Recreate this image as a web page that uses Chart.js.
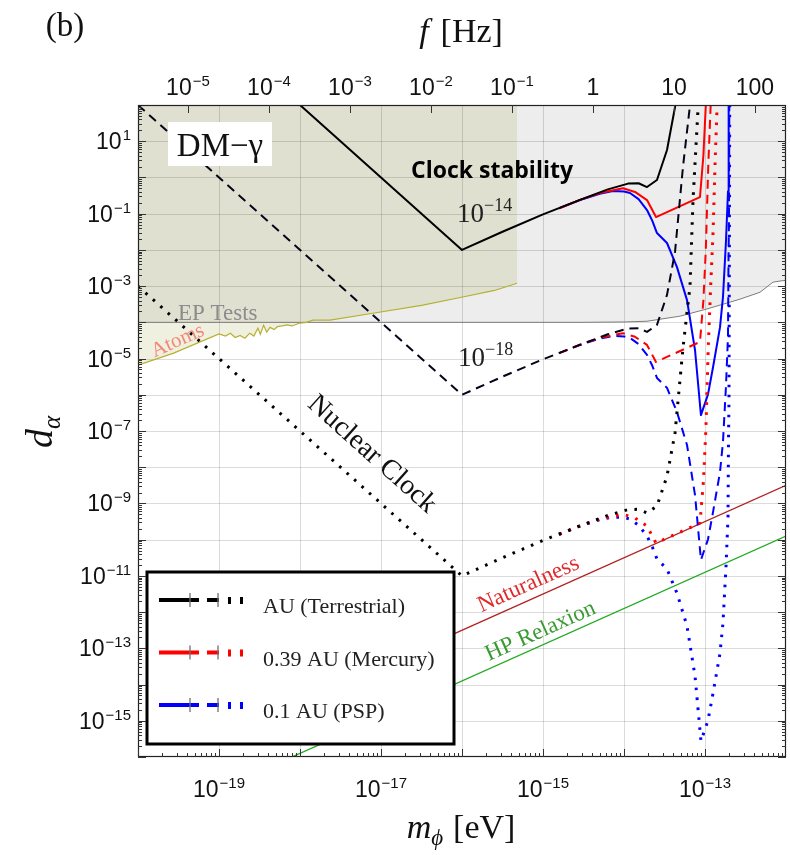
<!DOCTYPE html>
<html>
<head>
<meta charset="utf-8">
<script src="https://cdn.jsdelivr.net/npm/chart.js@4.4.1/dist/chart.umd.min.js"></script>
<style>
  html, body { margin: 0; padding: 0; background: #fff; }
  #wrap { width: 790px; height: 855px; position: relative; }
</style>
</head>
<body>
<div id="wrap"><canvas id="c" width="790" height="855"></canvas></div>
<script>
// ---- axis ranges and tick labels (powers of ten) ----
const massRange = [-20, -12];          // log10 m_phi [eV]
const couplingRange = [-16, 2];        // log10 d_alpha
const massTickExps = [-19, -17, -15, -13];
const couplingTickExps = [1, -1, -3, -5, -7, -9, -11, -13, -15];
const freqTickExps = [-5, -4, -3, -2, -1, 0, 1, 2];
const PLANCK_EV_S = 4.135667696e-15;   // f = m c^2 / h

// ---- sensitivity curves, points given as [log10 m, log10 d] ----
// 1 AU (terrestrial)
const terrestrialSolid = [[-18,2],[-16,-2],[-15.5,-1.5],[-15,-1.02],[-14.543,-0.62],[-14.2,-0.33],[-13.95,-0.17],[-13.82,-0.16],[-13.716,-0.265],[-13.593,-0.072],[-13.469,0.757],[-13.37,1.945],[-13.35,2.3]];
const terrestrialDashed = [[-20,2],[-16,-6],[-15.5,-5.5],[-15,-5.02],[-14.543,-4.62],[-14.2,-4.33],[-13.95,-4.17],[-13.82,-4.16],[-13.716,-4.265],[-13.593,-4.072],[-13.469,-3.243],[-13.37,-2.055],[-13.272,0.29],[-13.185,2.0],[-13.17,2.5]];
const terrestrialDotted = [[-20,-3],[-16,-11],[-15.5,-10.5],[-15,-10.02],[-14.543,-9.62],[-14.2,-9.33],[-13.95,-9.17],[-13.82,-9.16],[-13.716,-9.265],[-13.593,-9.072],[-13.469,-8.243],[-13.37,-7.055],[-13.272,-4.71],[-13.185,-3.0],[-13.148,-0.62],[-13.086,1.9],[-13.08,2.3]];
// 0.39 AU (Mercury)
const mercurySolid = [[-14.8,-0.85],[-14.543,-0.62],[-14.3,-0.43],[-14.012,-0.3],[-13.864,-0.40],[-13.716,-0.624],[-13.605,-1.094],[-13.062,-0.541],[-13.02,0.6],[-12.99,2.0],[-12.98,2.5]];
const mercuryDashed = [[-14.8,-4.85],[-14.543,-4.62],[-14.3,-4.43],[-14.012,-4.3],[-13.864,-4.40],[-13.716,-4.624],[-13.605,-5.094],[-13.062,-4.541],[-13.02,-3.4],[-12.99,-2.0],[-12.96,0.3],[-12.93,2.0],[-12.92,2.5]];
const mercuryDotted = [[-14.8,-9.85],[-14.543,-9.62],[-14.3,-9.43],[-14.012,-9.3],[-13.864,-9.40],[-13.716,-9.624],[-13.605,-10.094],[-13.062,-9.541],[-13.02,-8.4],[-12.99,-7.0],[-12.96,-4.7],[-12.93,-3.0],[-12.9,-1.5],[-12.877,0.3],[-12.852,1.9],[-12.845,2.5]];
// 0.1 AU (Parker Solar Probe)
const pspSolid = [[-14.8,-0.85],[-14.543,-0.624],[-14.3,-0.45],[-14.136,-0.376],[-14.0,-0.39],[-13.926,-0.431],[-13.82,-0.6],[-13.716,-0.90],[-13.65,-1.2],[-13.593,-1.536],[-13.469,-1.81],[-13.346,-2.475],[-13.222,-3.387],[-13.123,-4.77],[-13.05,-6.56],[-12.963,-5.99],[-12.901,-5.24],[-12.815,-4.14],[-12.778,-3.3],[-12.741,-1.76],[-12.716,-0.38],[-12.71,1.7],[-12.706,2.5]];
const pspDashed = [[-14.8,-4.85],[-14.543,-4.624],[-14.3,-4.45],[-14.136,-4.376],[-14.0,-4.39],[-13.926,-4.431],[-13.82,-4.6],[-13.716,-4.90],[-13.65,-5.2],[-13.593,-5.536],[-13.469,-5.81],[-13.346,-6.475],[-13.222,-7.387],[-13.123,-8.77],[-13.05,-10.56],[-12.963,-9.99],[-12.901,-9.24],[-12.815,-8.14],[-12.778,-7.3],[-12.741,-5.76],[-12.716,-4.38],[-12.71,-2.3],[-12.704,-1.15],[-12.70,2.0],[-12.699,2.5]];
const pspDotted = [[-14.8,-9.85],[-14.543,-9.624],[-14.3,-9.45],[-14.136,-9.376],[-14.0,-9.39],[-13.926,-9.431],[-13.82,-9.6],[-13.716,-9.90],[-13.65,-10.2],[-13.593,-10.536],[-13.469,-10.81],[-13.346,-11.475],[-13.222,-12.387],[-13.123,-13.77],[-13.05,-15.56],[-12.963,-14.99],[-12.901,-14.24],[-12.815,-13.14],[-12.778,-12.3],[-12.741,-10.76],[-12.716,-9.38],[-12.71,-7.3],[-12.704,-6.15],[-12.70,-3.0],[-12.695,2.0],[-12.694,2.5]];

// ---- existing bounds and theory lines ----
const epTestsBound = [[-20,-4],[-14.543,-4.0],[-14.0,-3.99],[-13.716,-3.97],[-13.309,-3.83],[-12.975,-3.63],[-12.778,-3.5],[-12.568,-3.36],[-12.321,-3.17],[-12.16,-2.89],[-12.074,-2.86],[-12.0,-2.84]];
const atomsBound = [[-20,-5.18],[-19.56,-4.85],[-19.0,-4.32],[-18.92,-4.38],[-18.86,-4.30],[-18.8,-4.42],[-18.74,-4.36],[-18.68,-4.44],[-18.62,-4.3],[-18.57,-4.38],[-18.52,-4.16],[-18.49,-4.33],[-18.45,-4.08],[-18.41,-4.27],[-18.37,-4.14],[-18.32,-4.2],[-18.28,-4.12],[-18.22,-4.1],[-18.16,-4.07],[-18.1,-4.1],[-18.0,-4.02],[-17.92,-4.0],[-17.84,-3.94],[-17.63,-3.94],[-17.1,-3.75],[-16.5,-3.53],[-15.99,-3.30],[-15.6,-3.12],[-15.32,-2.92]];
const naturalnessLine = [[-16.1,-12.6],[-12,-8.5]];
const relaxionLine = [[-20,-17.9],[-12,-9.9]];

const legendLabels = ['AU (Terrestrial)', '0.39 AU (Mercury)', '0.1 AU (PSP)'];
const legendColors = ['#000000', '#ff0000', '#0000ff'];

const SANS = '"Liberation Sans", Arial, sans-serif';
const SERIF = '"Liberation Serif", "Times New Roman", "DejaVu Serif", serif';

function toPoints(arr) {
  return arr.map(([m, d]) => ({ x: Math.pow(10, m), y: Math.pow(10, d) }));
}

function curve(label, arr, color, style, order) {
  const ds = {
    label, data: toPoints(arr), borderColor: color, backgroundColor: color,
    borderWidth: 2, pointRadius: 0, showLine: true, fill: false, tension: 0,
    order, borderCapStyle: 'butt', borderJoinStyle: 'round'
  };
  if (style === 'dash') ds.borderDash = [9, 6];
  if (style === 'dot') { ds.borderDash = [2.6, 7.4]; ds.borderWidth = 3; }
  return ds;
}

const datasets = [
  { label: 'EP region', data: toPoints(epTestsBound), borderWidth: 0, borderColor: 'rgba(0,0,0,0)',
    backgroundColor: '#ededed', fill: 'end', showLine: true, pointRadius: 0, order: 40 },
  { label: 'Atoms region', data: toPoints(atomsBound), borderWidth: 0, borderColor: 'rgba(0,0,0,0)',
    backgroundColor: 'rgba(150,150,45,0.14)', fill: 'end', showLine: true, pointRadius: 0, order: 39 },
  { label: 'EP Tests', data: toPoints(epTestsBound), borderWidth: 1, borderColor: '#7c7c7c',
    fill: false, showLine: true, pointRadius: 0, order: 38 },
  { label: 'Atoms', data: toPoints(atomsBound), borderWidth: 1.2, borderColor: '#b6b030',
    fill: false, showLine: true, pointRadius: 0, order: 37 },
  { label: 'Naturalness', data: toPoints(naturalnessLine), borderWidth: 1.3, borderColor: '#b3201f',
    fill: false, showLine: true, pointRadius: 0, order: 36 },
  { label: 'HP Relaxion', data: toPoints(relaxionLine), borderWidth: 1.3, borderColor: '#22aa22',
    fill: false, showLine: true, pointRadius: 0, order: 35 },
  curve('0.1 AU dotted', pspDotted, '#0000ff', 'dot', 30),
  curve('0.1 AU dashed', pspDashed, '#0000ff', 'dash', 29),
  curve('0.1 AU solid', pspSolid, '#0000ff', 'solid', 28),
  curve('0.39 AU dotted', mercuryDotted, '#ff0000', 'dot', 27),
  curve('0.39 AU dashed', mercuryDashed, '#ff0000', 'dash', 26),
  curve('0.39 AU solid', mercurySolid, '#ff0000', 'solid', 25),
  curve('AU dotted', terrestrialDotted, '#000000', 'dot', 24),
  curve('AU dashed', terrestrialDashed, '#05051a', 'dash', 23),
  curve('AU solid', terrestrialSolid, '#000000', 'solid', 22)
];
const GRID_AFTER = 1; // gridlines go on top of the shaded regions

function line(ctx, x1, y1, x2, y2) {
  ctx.beginPath(); ctx.moveTo(x1, y1); ctx.lineTo(x2, y2); ctx.stroke();
}

// "10" with a raised exponent
function powLabel(ctx, exp, x, y, align) {
  const base = '10', sup = (exp < 0 ? '\u2212' : '') + Math.abs(exp);
  ctx.font = '23px ' + SANS;
  const wb = ctx.measureText(base).width;
  ctx.font = '15px ' + SANS;
  const ws = ctx.measureText(sup).width;
  const w = wb + ws + 1;
  let x0 = align === 'right' ? x - w : (align === 'center' ? x - w / 2 : x);
  ctx.textAlign = 'left';
  ctx.font = '23px ' + SANS; ctx.fillText(base, x0, y);
  ctx.font = '15px ' + SANS; ctx.fillText(sup, x0 + wb + 1, y - 9);
}

function parts(ctx, list, x, y, align) {
  let w = 0;
  list.forEach(p => { ctx.font = p.font; w += ctx.measureText(p.t).width + (p.gap || 0); });
  let cx = align === 'center' ? x - w / 2 : x;
  ctx.textAlign = 'left';
  list.forEach(p => {
    ctx.font = p.font;
    ctx.fillText(p.t, cx, y + (p.dy || 0));
    cx += ctx.measureText(p.t).width + (p.gap || 0);
  });
}

function rotText(ctx, text, font, color, cx, cy, angleDeg) {
  ctx.save();
  ctx.translate(cx, cy); ctx.rotate(angleDeg * Math.PI / 180);
  ctx.font = font; ctx.fillStyle = color; ctx.textAlign = 'center'; ctx.textBaseline = 'alphabetic';
  ctx.fillText(text, 0, 0);
  ctx.restore();
}

function drawGrid(chart) {
  const { ctx, chartArea: a, scales: { x, y } } = chart;
  ctx.save();
  ctx.strokeStyle = 'rgba(0,0,0,0.14)'; ctx.lineWidth = 1;
  for (let e = massRange[0] + 1; e < massRange[1]; e++) {
    const px = Math.round(x.getPixelForValue(Math.pow(10, e))) + 0.5;
    line(ctx, px, a.top, px, a.bottom);
  }
  for (let e = couplingRange[0] + 1; e < couplingRange[1]; e++) {
    const py = Math.round(y.getPixelForValue(Math.pow(10, e))) + 0.5;
    line(ctx, a.left, py, a.right, py);
  }
  ctx.restore();
}

function drawAnnotations(chart) {
  const { ctx, scales: { x, y } } = chart;
  ctx.save();
  ctx.textBaseline = 'alphabetic';
  // DM-gamma label box
  ctx.fillStyle = '#ffffff';
  ctx.fillRect(168, 122, 104, 44);
  ctx.fillStyle = '#111';
  ctx.font = '33px ' + SERIF; ctx.textAlign = 'center';
  ctx.fillText('DM\u2212\u03b3', 220, 156);

  ctx.font = 'bold 23px "Open Sans", Lato, sans-serif';
  ctx.fillStyle = '#000'; ctx.textAlign = 'center';
  ctx.fillText('Clock stability', 492, 178);

  // sensitivity levels
  ctx.fillStyle = '#222';
  parts(ctx, [{ t: '10', font: '27px ' + SERIF }, { t: '\u221214', font: '18px ' + SERIF, dy: -11 }], 457, 222, 'left');
  parts(ctx, [{ t: '10', font: '27px ' + SERIF }, { t: '\u221218', font: '18px ' + SERIF, dy: -11 }], 458, 366, 'left');

  ctx.fillStyle = '#8c8c8c'; ctx.font = '23px ' + SERIF; ctx.textAlign = 'left';
  ctx.fillText('EP Tests', 178, 320);

  const degPerDecade = Math.atan2(
    y.getPixelForValue(1e-10) - y.getPixelForValue(1e-9),
    x.getPixelForValue(1e-15) - x.getPixelForValue(1e-16)) * 180 / Math.PI;
  rotText(ctx, 'Atoms', '21px ' + SERIF, '#f38878', 180, 346, -24);
  const steep = Math.atan2(2 * (y.getPixelForValue(1e-10) - y.getPixelForValue(1e-9)),
    x.getPixelForValue(1e-15) - x.getPixelForValue(1e-16)) * 180 / Math.PI;
  rotText(ctx, 'Nuclear Clock', '28px ' + SERIF, '#111', 367, 460, steep);
  rotText(ctx, 'Naturalness', '23px ' + SERIF, '#e02a2a', 531, 590, -degPerDecade);
  rotText(ctx, 'HP Relaxion', '23px ' + SERIF, '#3a9a32', 543, 637, -degPerDecade);
  ctx.restore();
}

function drawLegend(chart) {
  const { ctx } = chart;
  ctx.save();
  ctx.fillStyle = '#fff';
  ctx.fillRect(147, 572, 307, 172);
  ctx.lineWidth = 3; ctx.strokeStyle = '#000';
  ctx.strokeRect(147, 572, 307, 172);
  legendLabels.forEach((lab, i) => {
    const cy = 600 + i * 52.5;
    const c = legendColors[i];
    ctx.strokeStyle = c; ctx.lineWidth = 4; ctx.lineCap = 'butt';
    line(ctx, 159, cy, 199, cy);
    line(ctx, 207, cy, 219, cy);
    ctx.fillStyle = c;
    ctx.fillRect(228, cy - 3, 3, 7);
    ctx.fillRect(240, cy - 3, 3, 7);
    ctx.strokeStyle = '#6f6f6f'; ctx.lineWidth = 1.3;
    line(ctx, 190, cy - 7, 190, cy + 7);
    line(ctx, 218, cy - 7, 218, cy + 7);
    ctx.fillStyle = '#222'; ctx.font = '22px ' + SERIF; ctx.textAlign = 'left';
    ctx.fillText(lab, 263, cy + 13);
  });
  ctx.restore();
}

function drawAxes(chart) {
  const { ctx, chartArea: a, scales: { x, y, x2 } } = chart;
  ctx.save();
  ctx.strokeStyle = '#222'; ctx.lineWidth = 1.2;
  ctx.strokeRect(a.left + 0.5, a.top + 0.5, a.right - a.left - 1, a.bottom - a.top - 1);

  ctx.lineWidth = 1; ctx.strokeStyle = '#333';
  // mass axis ticks (bottom), major and minor
  for (let e = massRange[0]; e < massRange[1]; e++) {
    for (let k = 1; k <= 9; k++) {
      const px = Math.round(x.getPixelForValue(k * Math.pow(10, e))) + 0.5;
      const len = k === 1 ? 8 : 4;
      line(ctx, px, a.bottom, px, a.bottom - len);
    }
  }
  // coupling axis ticks (left and right)
  for (let e = couplingRange[0]; e < couplingRange[1]; e++) {
    for (let k = 1; k <= 9; k++) {
      const py = Math.round(y.getPixelForValue(k * Math.pow(10, e))) + 0.5;
      const len = k === 1 ? 8 : 4;
      line(ctx, a.left, py, a.left + len, py);
      line(ctx, a.right, py, a.right - len, py);
    }
  }
  // frequency axis ticks (top)
  freqTickExps.forEach(e => {
    const px = Math.round(x2.getPixelForValue(Math.pow(10, e))) + 0.5;
    line(ctx, px, a.top, px, a.top + 8);
  });

  ctx.fillStyle = '#111'; ctx.textBaseline = 'alphabetic';
  massTickExps.forEach(e => powLabel(ctx, e, x.getPixelForValue(Math.pow(10, e)), 797, 'center'));
  couplingTickExps.forEach(e => powLabel(ctx, e, 131, y.getPixelForValue(Math.pow(10, e)) + 8, 'right'));
  freqTickExps.forEach(e => {
    const px = x2.getPixelForValue(Math.pow(10, e));
    if (e >= 0) {
      ctx.font = '23px ' + SANS; ctx.textAlign = 'center';
      ctx.fillText(String(Math.pow(10, e)), px, 95);
    } else {
      powLabel(ctx, e, px, 95, 'center');
    }
  });

  // axis titles
  ctx.fillStyle = '#111';
  parts(ctx, [
    { t: 'm', font: 'italic 34px ' + SERIF },
    { t: '\u03d5', font: 'italic 23px ' + SERIF, dy: 7, gap: 10 },
    { t: '[eV]', font: '34px ' + SERIF }
  ], 461, 838, 'center');
  parts(ctx, [
    { t: 'f', font: 'italic 34px ' + SERIF, gap: 12 },
    { t: '[Hz]', font: '34px ' + SERIF }
  ], 461, 42, 'center');
  ctx.save();
  ctx.translate(52, 432); ctx.rotate(-Math.PI / 2);
  parts(ctx, [
    { t: 'd', font: 'italic 38px ' + SERIF },
    { t: '\u03b1', font: 'italic 25px ' + SERIF, dy: 8 }
  ], 0, 0, 'center');
  ctx.restore();
  ctx.font = '33px ' + SERIF; ctx.textAlign = 'center';
  ctx.fillText('(b)', 65, 36);
  ctx.restore();
}

const decorations = {
  id: 'decorations',
  afterDatasetDraw(chart, args) {
    if (args.index === GRID_AFTER) drawGrid(chart);
  },
  afterDatasetsDraw(chart) {
    drawAnnotations(chart);
    drawLegend(chart);
    drawAxes(chart);
  }
};

new Chart(document.getElementById('c'), {
  type: 'scatter',
  data: { datasets },
  options: {
    responsive: false,
    animation: false,
    devicePixelRatio: 1,
    layout: { padding: { left: 138, right: 4, top: 105, bottom: 98 } },
    scales: {
      x: { type: 'logarithmic', min: Math.pow(10, massRange[0]), max: Math.pow(10, massRange[1]), display: false },
      x2: { type: 'logarithmic', axis: 'x', position: 'top',
            min: Math.pow(10, massRange[0]) / PLANCK_EV_S, max: Math.pow(10, massRange[1]) / PLANCK_EV_S, display: false },
      y: { type: 'logarithmic', min: Math.pow(10, couplingRange[0]), max: Math.pow(10, couplingRange[1]), display: false }
    },
    plugins: { legend: { display: false }, tooltip: { enabled: false } },
    elements: { point: { radius: 0 } }
  },
  plugins: [decorations]
});
</script>
</body>
</html>
